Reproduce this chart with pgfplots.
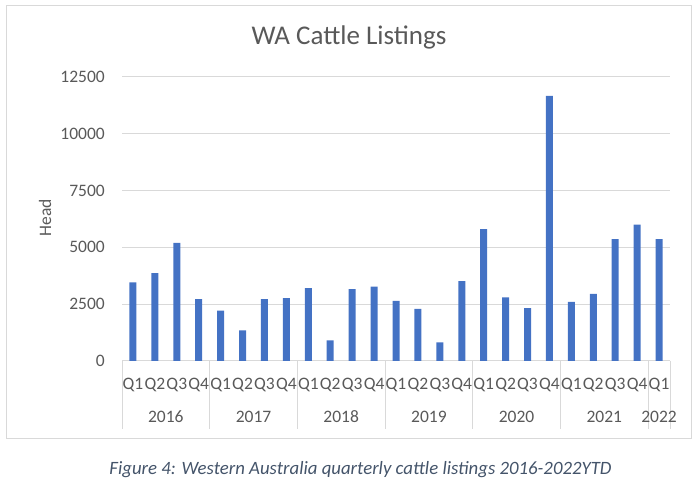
\documentclass[border=0pt]{standalone}
\usepackage{pgfplots}
\pgfplotsset{compat=1.18}
\usepackage{fontspec}
\setmainfont{Carlito}
\definecolor{barblue}{HTML}{4472C4}
\definecolor{txtgrey}{HTML}{595959}
\definecolor{gridgrey}{HTML}{D9D9D9}
\definecolor{capblue}{HTML}{44546A}
\begin{document}
\begin{tikzpicture}[x=1pt,y=1pt]
\useasboundingbox (0,0) rectangle (700,486);
\draw[gridgrey, line width=1pt] (6.7,480.3) rectangle (691.7,47);
\node[anchor=base, text=txtgrey, font=\fontsize{27}{31}\selectfont] at (349,441.7) {WA Cattle Listings};
\node[rotate=90, text=txtgrey, font=\fontsize{17.5}{21}\selectfont] at (45,268) {Head};
\node[text=capblue, font=\fontsize{18.8}{23}\selectfont\itshape] at (360.5,16) {Figure 4: Western Australia quarterly cattle listings 2016-2022YTD};
\begin{axis}[
  at={(122pt,125pt)}, anchor=south west,
  scale only axis, width=548pt, height=284.3pt,
  xmin=-0.5, xmax=24.5, ymin=0, ymax=12500,
  axis line style={draw=none},
  ytick={0,2500,5000,7500,10000,12500},
  ymajorgrids, grid style={gridgrey, line width=1pt},
  major tick length=0pt,
  scaled y ticks=false,
  /pgf/number format/.cd, set thousands separator={}, assume math mode=true,
  /pgfplots/.cd,
  yticklabel style={text=txtgrey, font=\fontsize{17.5}{21}\selectfont, anchor=east, inner sep=0pt, xshift=-17pt},
  xtick={0,...,24},
  xticklabels={Q1,Q2,Q3,Q4,Q1,Q2,Q3,Q4,Q1,Q2,Q3,Q4,Q1,Q2,Q3,Q4,Q1,Q2,Q3,Q4,Q1,Q2,Q3,Q4,Q1},
  xticklabel style={text=txtgrey, font=\fontsize{17.5}{21}\selectfont, anchor=base, inner sep=0pt, yshift=-29pt},
  clip=false,
]
\addplot[ybar, bar width=7pt, fill=barblue, draw=none] coordinates {
(0,3460) (1,3860) (2,5190) (3,2720)
(4,2220) (5,1350) (6,2720) (7,2760)
(8,3200) (9,910) (10,3160) (11,3270)
(12,2640) (13,2290) (14,820) (15,3510)
(16,5800) (17,2800) (18,2320) (19,11660)
(20,2600) (21,2950) (22,5360) (23,6000)
(24,5360)};
\pgfplotsinvokeforeach{-0.5,3.5,7.5,11.5,15.5,19.5,23.5,24.5}{
  \draw[gridgrey, line width=1pt] (axis cs:#1,0) -- ([yshift=-68pt]axis cs:#1,0);
}
\node[anchor=base, text=txtgrey, font=\fontsize{17.5}{21}\selectfont, inner sep=0pt] at ([yshift=-62pt]axis cs:1.5,0) {2016};
\node[anchor=base, text=txtgrey, font=\fontsize{17.5}{21}\selectfont, inner sep=0pt] at ([yshift=-62pt]axis cs:5.5,0) {2017};
\node[anchor=base, text=txtgrey, font=\fontsize{17.5}{21}\selectfont, inner sep=0pt] at ([yshift=-62pt]axis cs:9.5,0) {2018};
\node[anchor=base, text=txtgrey, font=\fontsize{17.5}{21}\selectfont, inner sep=0pt] at ([yshift=-62pt]axis cs:13.5,0) {2019};
\node[anchor=base, text=txtgrey, font=\fontsize{17.5}{21}\selectfont, inner sep=0pt] at ([yshift=-62pt]axis cs:17.5,0) {2020};
\node[anchor=base, text=txtgrey, font=\fontsize{17.5}{21}\selectfont, inner sep=0pt] at ([yshift=-62pt]axis cs:21.5,0) {2021};
\node[anchor=base, text=txtgrey, font=\fontsize{17.5}{21}\selectfont, inner sep=0pt] at ([yshift=-62pt]axis cs:24,0) {2022};
\end{axis}
\end{tikzpicture}
\end{document}
